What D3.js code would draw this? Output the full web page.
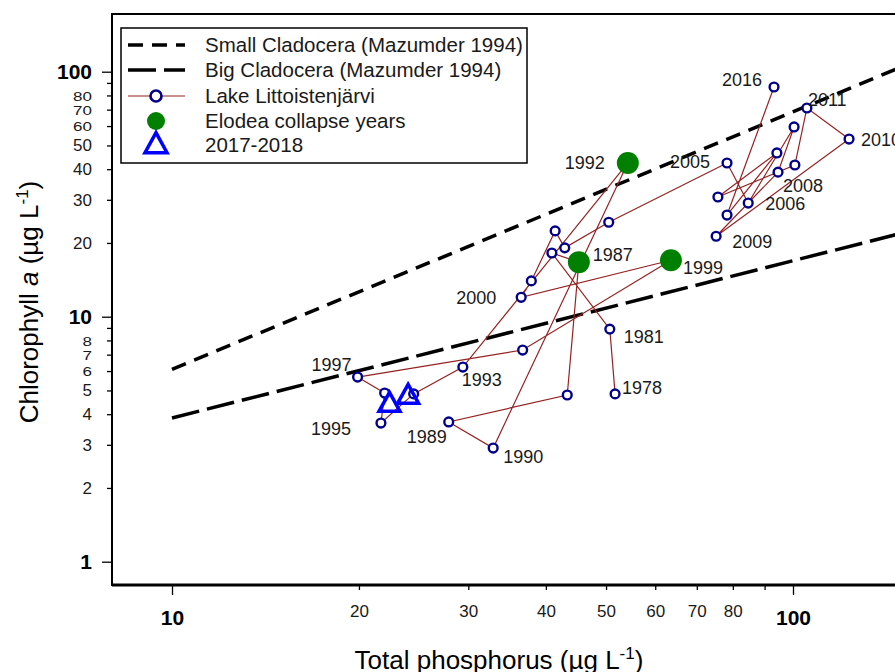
<!DOCTYPE html>
<html>
<head>
<meta charset="utf-8">
<script src="https://cdn.jsdelivr.net/npm/d3@7"></script>
<style>
  body { margin: 0; background: #fff; }
  text { font-family: "Liberation Sans", Arial, sans-serif; }
</style>
</head>
<body>
<div id="chart"></div>
<script>
// Lake Littoistenjärvi, yearly means
var years = [1978, 1981, 1986, 1987, 1988, 1989, 1990, 1992, 1993, 1994, 1995, 1996, 1997, 1998, 1999, 2000,
             2001, 2002, 2003, 2004, 2005, 2006, 2007, 2008, 2009, 2010, 2011, 2012, 2013, 2014, 2015, 2016];
var tp  = [51.7, 50.7, 40.9, 45.2, 43.3, 27.9, 32.9, 54.2, 29.4, 24.5, 21.7, 22.0, 19.9, 36.7, 63.6, 36.5,
           37.9, 41.4, 42.9, 50.5, 78.3, 84.7, 100.4, 94.6, 75.2, 123.1, 105.3, 100.7, 75.7, 94.2, 78.3, 93.2];
var chl = [4.84, 8.9, 18.2, 16.7, 4.79, 3.72, 2.91, 42.4, 6.23, 4.84, 3.68, 4.88, 5.67, 7.31, 17.0, 12.0,
           14.0, 22.4, 19.1, 24.3, 42.4, 29.1, 59.5, 38.9, 21.3, 53.1, 71.1, 41.6, 30.8, 46.6, 26.0, 86.6];

var labelledYears = [1978, 1981, 1987, 1989, 1990, 1992, 1993, 1995, 1997, 1999, 2000, 2005, 2006, 2008, 2009, 2010, 2011, 2016];
var elodeaYears = [1987, 1992, 1999];

// 2017-2018
var newYears = [2017, 2018];
var newTp = [22.4, 24.0];
var newChl = [4.36, 4.70];

// Mazumder (1994) lines, end points
var smallTp = [10, 200], smallChl = [6.1, 142];
var bigTp = [10, 200], bigChl = [3.86, 26.4];

var yMajor = [1, 10, 100];
var yMinor = [2, 3, 4, 5, 6, 7, 8, 9, 20, 30, 40, 50, 60, 70, 80, 90];
var xMajor = [10, 100];
var xMinor = [20, 30, 40, 50, 60, 70, 80, 90];
var unlabelled = [9, 90];
var squeezed = [6, 7, 8, 60, 70, 80];

// label offsets (px) from the point
var labelOff = {
  1978: [7, -6], 1981: [14, 8], 1987: [14, -7], 1989: [-42, 15], 1990: [10, 9], 1992: [-63, 0],
  1993: [-1, 13], 1995: [-70, 6], 1997: [-46, -12], 1999: [12, 8], 2000: [-65, 1], 2005: [-57, -1],
  2006: [17, 1], 2008: [5, 14], 2009: [16, 6], 2010: [12, 1], 2011: [1, -8], 2016: [-52, -7]
};

var W = 895, H = 672;
var plotLeft = 112, plotTop = 14, plotBottom = 585, plotRight = 902;

var svg = d3.select('#chart').append('svg')
    .attr('width', W)
    .attr('height', H);

var x = d3.scaleLog().domain([10, 100]).range([172, 793]);
var y = d3.scaleLog().domain([1, 100]).range([561.7, 71.7]);

var pts = years.map(function(d, i) { return {year: d, tp: tp[i], chl: chl[i]}; });

// axes
function fmt(d) { return unlabelled.indexOf(d) >= 0 ? '' : d; }

var gy1 = svg.append('g').attr('transform', 'translate(' + plotLeft + ',0)')
    .call(d3.axisLeft(y).tickValues(yMinor).tickSize(5).tickPadding(15).tickFormat(fmt));
gy1.selectAll('text').style('font-size', '17px').attr('fill', '#1a1a1a');
gy1.selectAll('.tick')
    .filter(function(d) { return squeezed.indexOf(d) >= 0; })
    .select('text')
    .attr('transform', 'scale(1,0.78)')
    .attr('y', 0)
    .attr('dy', '0.36em');
var gy2 = svg.append('g').attr('transform', 'translate(' + plotLeft + ',0)')
    .call(d3.axisLeft(y).tickValues(yMajor).tickSize(10).tickPadding(10).tickFormat(fmt));
gy2.selectAll('text').style('font-size', '21px').style('font-weight', 'bold').attr('fill', '#000');

var gx1 = svg.append('g').attr('transform', 'translate(0,' + plotBottom + ')')
    .call(d3.axisBottom(x).tickValues(xMinor).tickSize(5).tickPadding(15).tickFormat(fmt));
gx1.selectAll('text').style('font-size', '17px').attr('fill', '#1a1a1a');
var gx2 = svg.append('g').attr('transform', 'translate(0,' + plotBottom + ')')
    .call(d3.axisBottom(x).tickValues(xMajor).tickSize(10).tickPadding(15).tickFormat(fmt));
gx2.selectAll('text').style('font-size', '21px').style('font-weight', 'bold').attr('fill', '#000');

svg.selectAll('.domain').remove();
svg.selectAll('.tick line').attr('stroke', '#000').attr('stroke-width', 1.3);

// frame
svg.append('rect')
    .attr('x', plotLeft).attr('y', plotTop)
    .attr('width', plotRight - plotLeft).attr('height', plotBottom - plotTop)
    .attr('fill', 'none').attr('stroke', '#000').attr('stroke-width', 2);
svg.append('line')
    .attr('x1', plotLeft).attr('x2', plotRight).attr('y1', plotBottom).attr('y2', plotBottom)
    .attr('stroke', '#000').attr('stroke-width', 3);

// Mazumder lines
var refLine = d3.line().x(function(d) { return x(d[0]); }).y(function(d) { return y(d[1]); });
svg.append('path')
    .attr('d', refLine(d3.zip(smallTp, smallChl)))
    .attr('fill', 'none').attr('stroke', '#000').attr('stroke-width', 3.5)
    .attr('stroke-dasharray', '15,9');
svg.append('path')
    .attr('d', refLine(d3.zip(bigTp, bigChl)))
    .attr('fill', 'none').attr('stroke', '#000').attr('stroke-width', 3.5)
    .attr('stroke-dasharray', '28,8');

// lake series
var lakeLine = d3.line().x(function(d) { return x(d.tp); }).y(function(d) { return y(d.chl); });
svg.append('path')
    .attr('d', lakeLine(pts))
    .attr('fill', 'none').attr('stroke', '#962323').attr('stroke-width', 1.2);

svg.selectAll('circle.lake')
    .data(pts)
    .enter()
    .append('circle')
    .attr('class', 'lake')
    .attr('cx', function(d) { return x(d.tp); })
    .attr('cy', function(d) { return y(d.chl); })
    .attr('r', 4.4)
    .attr('fill', '#fff').attr('stroke', '#00008b').attr('stroke-width', 2.4);

svg.selectAll('circle.elodea')
    .data(pts.filter(function(d) { return elodeaYears.indexOf(d.year) >= 0; }))
    .enter()
    .append('circle')
    .attr('class', 'elodea')
    .attr('cx', function(d) { return x(d.tp); })
    .attr('cy', function(d) { return y(d.chl); })
    .attr('r', 11)
    .attr('fill', '#007f00');

function tri(w, h) {
  return 'M0,' + (-h * 2 / 3) + 'L' + (w / 2) + ',' + (h / 3) + 'L' + (-w / 2) + ',' + (h / 3) + 'Z';
}
svg.selectAll('path.new')
    .data(newYears.map(function(d, i) { return {year: d, tp: newTp[i], chl: newChl[i]}; }))
    .enter()
    .append('path')
    .attr('class', 'new')
    .attr('d', tri(21, 19))
    .attr('transform', function(d) { return 'translate(' + x(d.tp) + ',' + y(d.chl) + ')'; })
    .attr('fill', 'none').attr('stroke', '#0000ff').attr('stroke-width', 3.5);

// year labels
svg.selectAll('text.year')
    .data(pts.filter(function(d) { return labelledYears.indexOf(d.year) >= 0; }))
    .enter()
    .append('text')
    .attr('class', 'year')
    .attr('x', function(d) { return x(d.tp) + labelOff[d.year][0]; })
    .attr('y', function(d) { return y(d.chl) + labelOff[d.year][1] + 6; })
    .style('font-size', '18px')
    .attr('fill', '#1a1a1a')
    .text(function(d) { return d.year; });

// axis titles
var yt = svg.append('text')
    .attr('transform', 'translate(38,302) rotate(-90)')
    .style('text-anchor', 'middle')
    .style('font-size', '26px');
yt.append('tspan').text('Chlorophyll ');
yt.append('tspan').style('font-style', 'italic').text('a');
yt.append('tspan').text(' (µg L');
yt.append('tspan').attr('dy', -10).style('font-size', '17px').text('-1');
yt.append('tspan').attr('dy', 10).text(')');

var xt = svg.append('text')
    .attr('x', 499).attr('y', 669)
    .style('text-anchor', 'middle')
    .style('font-size', '26px');
xt.append('tspan').text('Total phosphorus (µg L');
xt.append('tspan').attr('dy', -10).style('font-size', '17px').text('-1');
xt.append('tspan').attr('dy', 10).text(')');

// legend
var lg = svg.append('g');
lg.append('rect')
    .attr('x', 121).attr('y', 28).attr('width', 406).attr('height', 135)
    .attr('fill', '#fff').attr('stroke', '#000').attr('stroke-width', 1.5);

var legendItems = ['Small Cladocera (Mazumder 1994)', 'Big Cladocera (Mazumder 1994)',
                   'Lake Littoistenjärvi', 'Elodea collapse years', '2017-2018'];
var rowY = [45, 70, 96, 121, 145];

lg.selectAll('text')
    .data(legendItems)
    .enter()
    .append('text')
    .attr('x', 205)
    .attr('y', function(d, i) { return rowY[i] + 7; })
    .style('font-size', '20.5px')
    .attr('fill', '#1a1a1a')
    .text(function(d) { return d; });

lg.append('line').attr('x1', 128).attr('x2', 185).attr('y1', rowY[0]).attr('y2', rowY[0])
    .attr('stroke', '#000').attr('stroke-width', 3.5).attr('stroke-dasharray', '15,9');
lg.append('line').attr('x1', 128).attr('x2', 185).attr('y1', rowY[1]).attr('y2', rowY[1])
    .attr('stroke', '#000').attr('stroke-width', 3.5).attr('stroke-dasharray', '28,8');
lg.append('line').attr('x1', 128).attr('x2', 185).attr('y1', rowY[2]).attr('y2', rowY[2])
    .attr('stroke', '#962323').attr('stroke-width', 1.2);
lg.append('circle').attr('cx', 156).attr('cy', rowY[2]).attr('r', 5.5)
    .attr('fill', '#fff').attr('stroke', '#00008b').attr('stroke-width', 2.6);
lg.append('circle').attr('cx', 156).attr('cy', rowY[3]).attr('r', 9)
    .attr('fill', '#007f00');
lg.append('path').attr('d', tri(22, 20))
    .attr('transform', 'translate(156,' + (rowY[4] + 1) + ')')
    .attr('fill', 'none').attr('stroke', '#0000ff').attr('stroke-width', 3.5);
</script>
</body>
</html>
